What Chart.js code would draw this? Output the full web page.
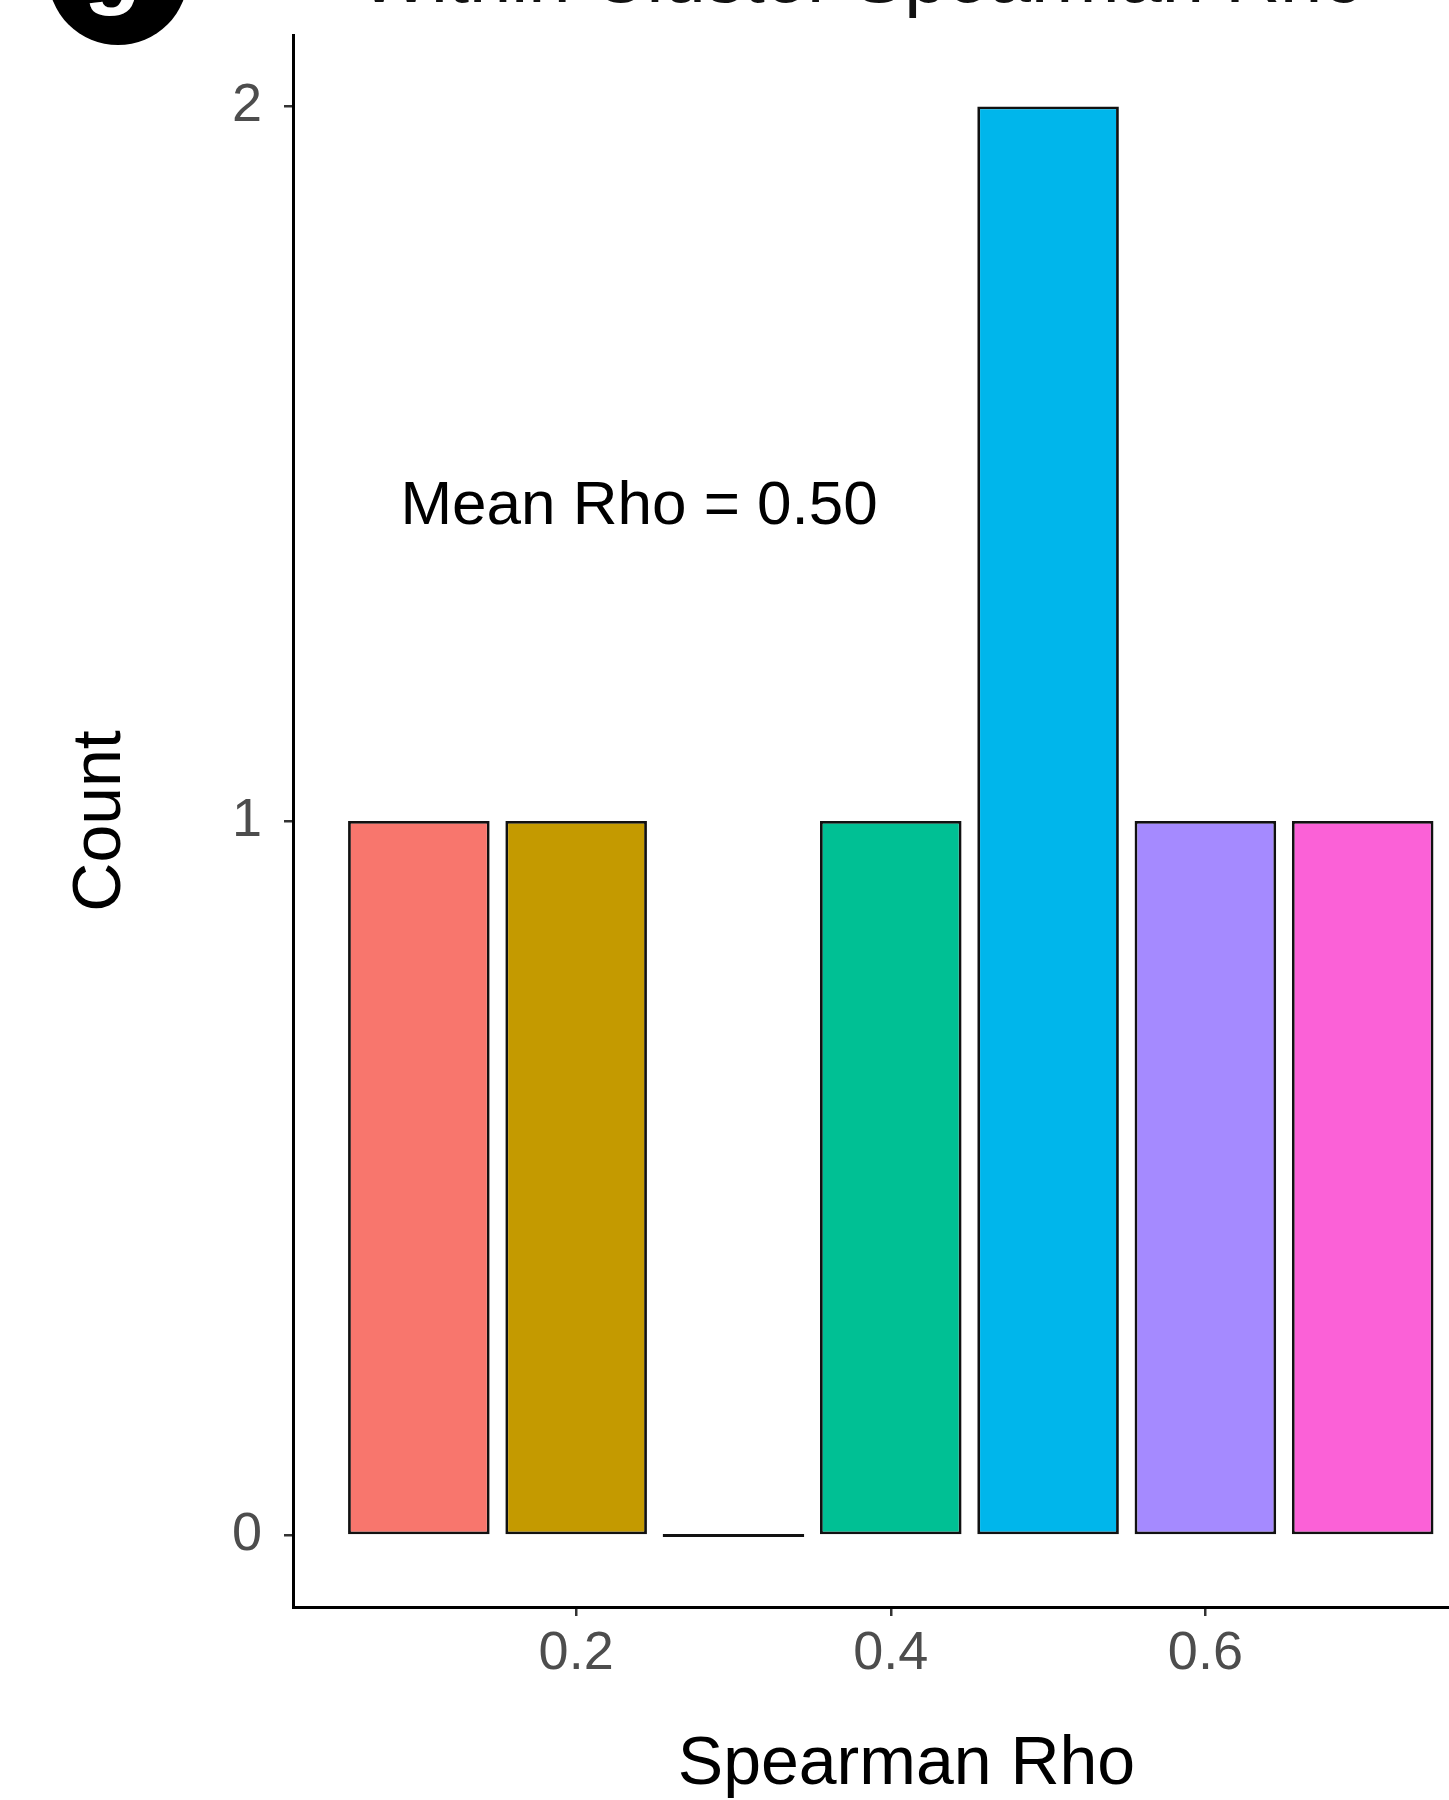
<!DOCTYPE html>
<html>
<head>
<meta charset="utf-8">
<script src="https://cdn.jsdelivr.net/npm/chart.js@4/dist/chart.umd.min.js"></script>
<style>
  html, body { margin: 0; padding: 0; background: #fff; overflow: hidden; }
  #wrap { width: 1449px; height: 1800px; overflow: hidden; position: relative; }
  canvas { position: absolute; left: 0; top: 0; }
</style>
</head>
<body>
<div id="wrap"><canvas id="histChart" width="1522" height="1806"></canvas></div>
<script>
// histogram bins (centres) and counts
const binCenters = [0.1, 0.2, 0.3, 0.4, 0.5, 0.6, 0.7];
const counts = [1, 1, 0, 1, 2, 1, 1];
const barColors = ['#F8766D', '#C49A00', '#53B400', '#00C094', '#00B6EB', '#A58AFF', '#FB61D7'];
const xTicks = [0.2, 0.4, 0.6];
const yTicks = [0, 1, 2];
const titleText = 'Within Cluster Spearman Rho';
const meanLabel = 'Mean Rho = 0.50';

const FONT = "'Liberation Sans', Arial, Helvetica, sans-serif";

// title (cut off at the top), panel letter and mean annotation
const decorations = {
    id: 'decorations',
    afterDraw(chart) {
        const ctx = chart.ctx;
        const xs = chart.scales.x, ys = chart.scales.y;
        ctx.save();
        // panel badge
        ctx.fillStyle = '#000';
        ctx.beginPath();
        ctx.arc(118, -25, 70, 0, Math.PI * 2);
        ctx.fill();
        ctx.fillStyle = '#fff';
        ctx.font = 'bold italic 92px ' + FONT;
        ctx.textAlign = 'center';
        ctx.textBaseline = 'alphabetic';
        ctx.fillText('g', 118, -3);
        // plot title, mostly above the canvas
        ctx.fillStyle = '#111';
        ctx.font = '76px ' + FONT;
        ctx.fillText(titleText, 862, 2);
        // annotation
        ctx.fillStyle = '#000';
        ctx.font = '62px ' + FONT;
        ctx.textBaseline = 'middle';
        ctx.fillText(meanLabel, xs.getPixelForValue(0.24), ys.getPixelForValue(1.44));
        ctx.restore();
    }
};

new Chart(document.getElementById('histChart'), {
    type: 'bar',
    data: {
        datasets: [{
            data: binCenters.map((c, i) => ({ x: c, y: counts[i] })),
            backgroundColor: barColors,
            borderColor: '#111',
            borderWidth: 2.8,
            borderSkipped: false,
            minBarLength: 3,
            barPercentage: 0.9,
            categoryPercentage: 1.0
        }]
    },
    options: {
        responsive: false,
        devicePixelRatio: 1,
        animation: false,
        layout: { padding: { top: 35, left: 0, right: 2, bottom: 0 } },
        plugins: {
            legend: { display: false },
            tooltip: { enabled: false }
        },
        scales: {
            x: {
                type: 'linear',
                offset: false,
                min: 0.02,
                max: 0.80,
                afterFit: s => { s.height = 199; s.paddingLeft = 0; s.paddingRight = 0; },
                afterBuildTicks: s => { s.ticks = xTicks.map(v => ({ value: v })); },
                grid: { offset: false, drawOnChartArea: false, drawTicks: true, tickLength: 9, lineWidth: 2.5, color: '#333' },
                border: { display: true, color: '#000', width: 3 },
                ticks: {
                    padding: 6,
                    color: '#4d4d4d',
                    font: { family: FONT, size: 54 },
                    callback: v => v.toFixed(1)
                },
                title: {
                    display: true,
                    text: 'Spearman Rho',
                    color: '#000',
                    font: { family: FONT, size: 68 },
                    padding: { top: 0, bottom: 0 }
                }
            },
            y: {
                min: -0.1,
                max: 2.1,
                afterFit: s => { s.width = 293; s.paddingTop = 0; s.paddingBottom = 0; },
                afterBuildTicks: s => { s.ticks = yTicks.map(v => ({ value: v })); },
                grid: { drawOnChartArea: false, drawTicks: true, tickLength: 9, lineWidth: 2.5, color: '#333' },
                border: { display: true, color: '#000', width: 3 },
                ticks: {
                    padding: 22,
                    color: '#4d4d4d',
                    font: { family: FONT, size: 54 },
                    callback: v => String(v)
                },
                title: {
                    display: true,
                    text: 'Count',
                    color: '#000',
                    font: { family: FONT, size: 68 },
                    padding: { top: 60, bottom: 0 }
                }
            }
        }
    },
    plugins: [decorations]
});
</script>
</body>
</html>
